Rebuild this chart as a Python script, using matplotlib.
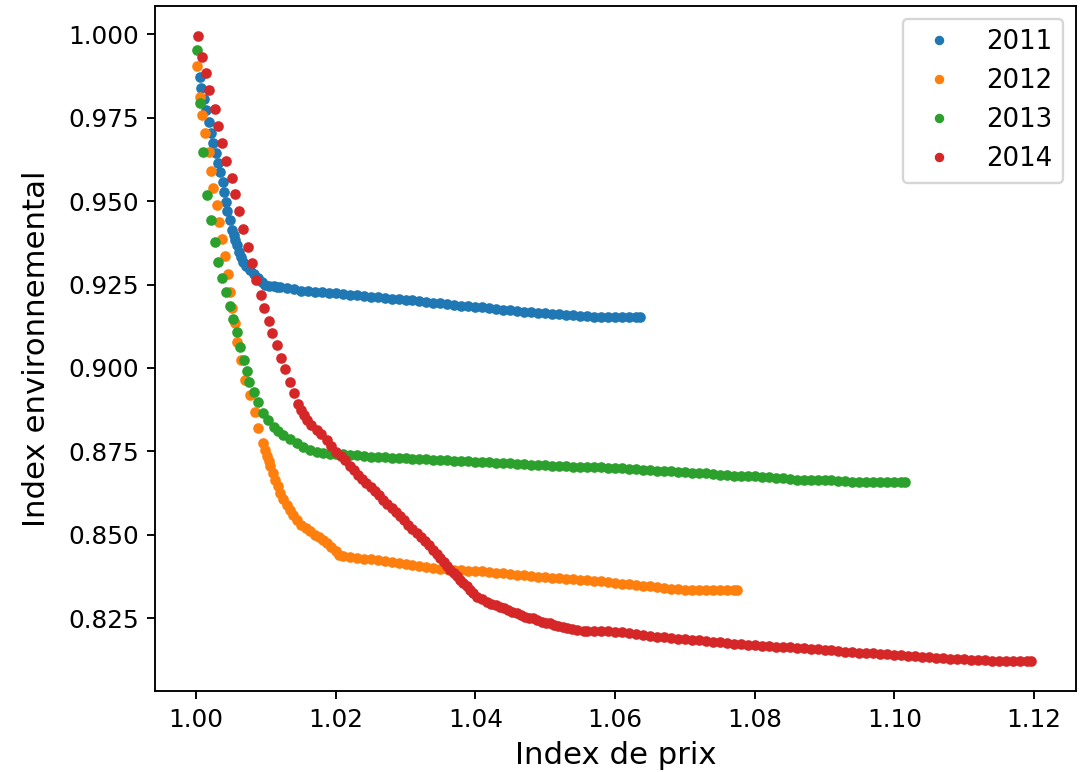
import matplotlib
matplotlib.use('Agg')
import matplotlib.pyplot as plt

years = ['2011', '2012', '2013', '2014']

# 2011
x_2011 = [1.0005, 1.0007, 1.0012, 1.0015, 1.0019, 1.0022, 1.0024, 1.0028, 1.0032, 1.0035,
          1.0038, 1.0040, 1.0043, 1.0045, 1.0049, 1.0051, 1.0054, 1.0056, 1.0058, 1.0061,
          1.0064, 1.0068, 1.0072, 1.0077, 1.0083, 1.0089, 1.0094, 1.0099, 1.0105, 1.0111,
          1.0116, 1.012, 1.013, 1.014, 1.015, 1.016, 1.017, 1.018, 1.019, 1.020,
          1.021, 1.022, 1.023, 1.024, 1.025, 1.026, 1.027, 1.028, 1.029, 1.030,
          1.031, 1.032, 1.033, 1.034, 1.035, 1.036, 1.037, 1.038, 1.039, 1.040,
          1.041, 1.042, 1.043, 1.044, 1.045, 1.046, 1.047, 1.048, 1.049, 1.050,
          1.051, 1.052, 1.053, 1.054, 1.055, 1.056, 1.057, 1.058, 1.059, 1.060,
          1.061, 1.062, 1.063, 1.0636]
y_2011 = [0.9871, 0.9838, 0.9805, 0.9773, 0.9738, 0.9703, 0.9673, 0.9643, 0.9614, 0.9588,
          0.9558, 0.9528, 0.9498, 0.9470, 0.9444, 0.9414, 0.9399, 0.9384, 0.9367, 0.9349,
          0.9334, 0.9319, 0.9306, 0.9294, 0.9281, 0.9269, 0.9258, 0.9249, 0.9246, 0.9245,
          0.9244, 0.9243, 0.9240, 0.9236, 0.9232, 0.9231, 0.9229, 0.9228, 0.9226, 0.9224,
          0.9222, 0.9220, 0.9218, 0.9215, 0.9213, 0.9212, 0.9210, 0.9208, 0.9206, 0.9205,
          0.9203, 0.9201, 0.9199, 0.9196, 0.9194, 0.9192, 0.9190, 0.9187, 0.9186, 0.9184,
          0.9182, 0.9180, 0.9177, 0.9175, 0.9173, 0.9171, 0.9169, 0.9167, 0.9165, 0.9164,
          0.9163, 0.9161, 0.9159, 0.9158, 0.9157, 0.9155, 0.9153, 0.9152, 0.9152, 0.9152,
          0.9152, 0.9152, 0.9152, 0.9152]

# 2012
x_2012 = [1.0002, 1.0005, 1.0008, 1.0013, 1.0018, 1.0021, 1.0025, 1.0030, 1.0033, 1.0037,
          1.0042, 1.0046, 1.0049, 1.0051, 1.0056, 1.0059, 1.0064, 1.0070, 1.0077, 1.0084,
          1.0089, 1.0096, 1.0099, 1.0101, 1.0104, 1.0106, 1.0110, 1.0113, 1.0117, 1.0120,
          1.0125, 1.0130, 1.0135, 1.0139, 1.0145, 1.0151, 1.0157, 1.0163, 1.0170, 1.0176,
          1.0182, 1.0188, 1.0194, 1.0200, 1.0205, 1.0210, 1.022, 1.023, 1.024, 1.025,
          1.026, 1.027, 1.028, 1.029, 1.030, 1.031, 1.032, 1.033, 1.034, 1.035,
          1.036, 1.037, 1.038, 1.039, 1.040, 1.041, 1.042, 1.043, 1.044, 1.045,
          1.046, 1.047, 1.048, 1.049, 1.050, 1.051, 1.052, 1.053, 1.054, 1.055,
          1.056, 1.057, 1.058, 1.059, 1.060, 1.061, 1.062, 1.063, 1.064, 1.065,
          1.066, 1.067, 1.068, 1.069, 1.070, 1.071, 1.072, 1.073, 1.074, 1.075,
          1.076, 1.077, 1.0775]
y_2012 = [0.9905, 0.9813, 0.9758, 0.9703, 0.9648, 0.9591, 0.9539, 0.9489, 0.9436, 0.9386,
          0.9336, 0.9282, 0.9229, 0.9179, 0.9134, 0.9079, 0.9024, 0.8964, 0.8919, 0.8869,
          0.8819, 0.8775, 0.8755, 0.8735, 0.8720, 0.8705, 0.8685, 0.8665, 0.8645, 0.8625,
          0.8607, 0.8590, 0.8575, 0.8560, 0.8545, 0.8530, 0.8520, 0.8510, 0.8500, 0.8493,
          0.8485, 0.8475, 0.8463, 0.8450, 0.8440, 0.8435, 0.8432, 0.8430, 0.8428, 0.8426,
          0.8423, 0.8420, 0.8417, 0.8414, 0.8411, 0.8408, 0.8405, 0.8403, 0.8400, 0.8398,
          0.8396, 0.8394, 0.8393, 0.8392, 0.8391, 0.8390, 0.8388, 0.8386, 0.8384, 0.8382,
          0.8380, 0.8378, 0.8376, 0.8374, 0.8372, 0.8370, 0.8369, 0.8367, 0.8366, 0.8365,
          0.8363, 0.8362, 0.8360, 0.8357, 0.8355, 0.8353, 0.8351, 0.8349, 0.8347, 0.8345,
          0.8343, 0.8341, 0.8339, 0.8337, 0.8336, 0.8336, 0.8335, 0.8335, 0.8335, 0.8335,
          0.8335, 0.8335, 0.8335]

# 2013
x_2013 = [1.0002, 1.0006, 1.0010, 1.0016, 1.0021, 1.0027, 1.0032, 1.0037, 1.0043, 1.0049,
          1.0053, 1.0058, 1.0063, 1.0069, 1.0073, 1.0076, 1.0083, 1.0089, 1.0096, 1.0103,
          1.0111, 1.0117, 1.0125, 1.0135, 1.0144, 1.0153, 1.0163, 1.0173, 1.0182, 1.0192,
          1.0201, 1.0210, 1.0221, 1.023, 1.024, 1.025, 1.026, 1.027, 1.028, 1.029,
          1.030, 1.031, 1.032, 1.033, 1.034, 1.035, 1.036, 1.037, 1.038, 1.039,
          1.040, 1.041, 1.042, 1.043, 1.044, 1.045, 1.046, 1.047, 1.048, 1.049,
          1.050, 1.051, 1.052, 1.053, 1.054, 1.055, 1.056, 1.057, 1.058, 1.059,
          1.060, 1.061, 1.062, 1.063, 1.064, 1.065, 1.066, 1.067, 1.068, 1.069,
          1.070, 1.071, 1.072, 1.073, 1.074, 1.075, 1.076, 1.077, 1.078, 1.079,
          1.080, 1.081, 1.082, 1.083, 1.084, 1.085, 1.086, 1.087, 1.088, 1.089,
          1.090, 1.091, 1.092, 1.093, 1.094, 1.095, 1.096, 1.097, 1.098, 1.099,
          1.100, 1.101, 1.1015]
y_2013 = [0.9953, 0.9793, 0.9648, 0.9519, 0.9444, 0.9376, 0.9319, 0.9271, 0.9229, 0.9186,
          0.9146, 0.9109, 0.9064, 0.9024, 0.8992, 0.8959, 0.8929, 0.8898, 0.8865, 0.8845,
          0.8824, 0.8812, 0.8800, 0.8786, 0.8775, 0.8764, 0.8755, 0.8749, 0.8745, 0.8743,
          0.8743, 0.8741, 0.8740, 0.8738, 0.8736, 0.8734, 0.8733, 0.8732, 0.8731, 0.8730,
          0.8729, 0.8728, 0.8727, 0.8726, 0.8725, 0.8724, 0.8723, 0.8722, 0.8721, 0.8720,
          0.8719, 0.8718, 0.8717, 0.8716, 0.8715, 0.8714, 0.8713, 0.8711, 0.8710, 0.8709,
          0.8708, 0.8707, 0.8706, 0.8705, 0.8704, 0.8704, 0.8703, 0.8703, 0.8702, 0.8701,
          0.8700, 0.8699, 0.8698, 0.8697, 0.8695, 0.8694, 0.8692, 0.8691, 0.8690, 0.8689,
          0.8688, 0.8686, 0.8685, 0.8684, 0.8682, 0.8680, 0.8679, 0.8677, 0.8676, 0.8675,
          0.8675, 0.8674, 0.8672, 0.8670, 0.8669, 0.8667, 0.8665, 0.8665, 0.8664, 0.8664,
          0.8663, 0.8663, 0.8662, 0.8660, 0.8659, 0.8658, 0.8657, 0.8657, 0.8657, 0.8657,
          0.8657, 0.8657, 0.8657]

# 2014
x_2014 = [1.0003, 1.0008, 1.0014, 1.0019, 1.0027, 1.0032, 1.0037, 1.0043, 1.0051, 1.0056,
          1.0062, 1.0067, 1.0074, 1.0080, 1.0086, 1.0093, 1.0098, 1.0104, 1.0109, 1.0116,
          1.0122, 1.0127, 1.0134, 1.0140, 1.0146, 1.0150, 1.0155, 1.0159, 1.0165, 1.0173,
          1.0179, 1.0187, 1.0194, 1.0201, 1.0208, 1.0213, 1.0221, 1.0226, 1.0232, 1.0238,
          1.0244, 1.0250, 1.0256, 1.0262, 1.0268, 1.0274, 1.0280, 1.0286, 1.0292, 1.0298,
          1.0304, 1.0310, 1.0316, 1.0322, 1.0328, 1.0334, 1.0340, 1.0345, 1.0350, 1.0355,
          1.0359, 1.0364, 1.0369, 1.0374, 1.0378, 1.0383, 1.0388, 1.0392, 1.0397, 1.0402,
          1.0409, 1.0416, 1.0422, 1.0429, 1.0435, 1.0441, 1.0447, 1.0453, 1.0459, 1.0465,
          1.0471, 1.0477, 1.0483, 1.0489, 1.0495, 1.0501, 1.0507, 1.0513, 1.0519, 1.0525,
          1.0531, 1.0538, 1.0545, 1.0555, 1.056, 1.057, 1.058, 1.059, 1.060, 1.061,
          1.062, 1.063, 1.064, 1.065, 1.066, 1.067, 1.068, 1.069, 1.070, 1.071,
          1.072, 1.073, 1.074, 1.075, 1.076, 1.077, 1.078, 1.079, 1.080, 1.081,
          1.082, 1.083, 1.084, 1.085, 1.086, 1.087, 1.088, 1.089, 1.090, 1.091,
          1.092, 1.093, 1.094, 1.095, 1.096, 1.097, 1.098, 1.099, 1.100, 1.101,
          1.102, 1.103, 1.104, 1.105, 1.106, 1.107, 1.108, 1.109, 1.110, 1.111,
          1.112, 1.113, 1.114, 1.115, 1.116, 1.117, 1.118, 1.119, 1.1195]
y_2014 = [0.9995, 0.9933, 0.9883, 0.9833, 0.9777, 0.9726, 0.9675, 0.9620, 0.9570, 0.9522,
          0.9471, 0.9416, 0.9364, 0.9314, 0.9264, 0.9220, 0.9180, 0.9142, 0.9104, 0.9068,
          0.9030, 0.8996, 0.8959, 0.8925, 0.8892, 0.8874, 0.8860, 0.8844, 0.8829, 0.8815,
          0.8801, 0.8785, 0.8767, 0.8748, 0.8737, 0.8725, 0.8705, 0.8695, 0.8680, 0.8668,
          0.8655, 0.8643, 0.8630, 0.8618, 0.8605, 0.8593, 0.8580, 0.8568, 0.8555, 0.8543,
          0.8530, 0.8518, 0.8505, 0.8493, 0.8480, 0.8468, 0.8455, 0.8443, 0.8430, 0.8418,
          0.8405, 0.8395, 0.8385, 0.8375, 0.8365, 0.8355, 0.8345, 0.8335, 0.8325, 0.8315,
          0.8307, 0.8300, 0.8294, 0.8290, 0.8285, 0.8280, 0.8275, 0.8270, 0.8265, 0.8260,
          0.8255, 0.8252, 0.8250, 0.8245, 0.8240, 0.8237, 0.8235, 0.8231, 0.8227, 0.8223,
          0.8220, 0.8217, 0.8215, 0.8213, 0.8212, 0.8212, 0.8212, 0.8211, 0.8210, 0.8208,
          0.8205, 0.8202, 0.8199, 0.8197, 0.8195, 0.8193, 0.8191, 0.8189, 0.8187, 0.8185,
          0.8184, 0.8182, 0.8180, 0.8178, 0.8176, 0.8174, 0.8172, 0.8170, 0.8169, 0.8168,
          0.8167, 0.8165, 0.8164, 0.8163, 0.8161, 0.8160, 0.8159, 0.8157, 0.8156, 0.8154,
          0.8152, 0.8150, 0.8149, 0.8147, 0.8146, 0.8145, 0.8143, 0.8142, 0.8141, 0.8140,
          0.8138, 0.8137, 0.8135, 0.8133, 0.8132, 0.8130, 0.8129, 0.8128, 0.8127, 0.8126,
          0.8125, 0.8124, 0.8123, 0.8123, 0.8122, 0.8122, 0.8122, 0.8122, 0.8122]

xs = [x_2011, x_2012, x_2013, x_2014]
ys = [y_2011, y_2012, y_2013, y_2014]

fig = plt.figure(figsize=(1084 / 170, 772 / 170), dpi=170)
ax = fig.add_axes([155.3 / 1084, 1 - 691 / 772, (1075.7 - 155.3) / 1084, (691 - 6) / 772])

for year, x, y in zip(years, xs, ys):
    ax.plot(x, y, '.', ms=7, label=year)

ax.set_xlim(0.99417, 1.12597)
ax.set_ylim(0.80318, 1.00848)
ax.set_xticks([1.00, 1.02, 1.04, 1.06, 1.08, 1.10, 1.12])
ax.set_yticks([0.825, 0.850, 0.875, 0.900, 0.925, 0.950, 0.975, 1.000])
ax.tick_params(labelsize=10.5)

ax.set_xlabel('Index de prix', fontsize=13)
ax.set_ylabel('Index environnemental', fontsize=13, labelpad=7)
ax.legend(loc='upper right', fontsize=11, markerscale=6 / 7)

fig.savefig('out.png', dpi=170)
